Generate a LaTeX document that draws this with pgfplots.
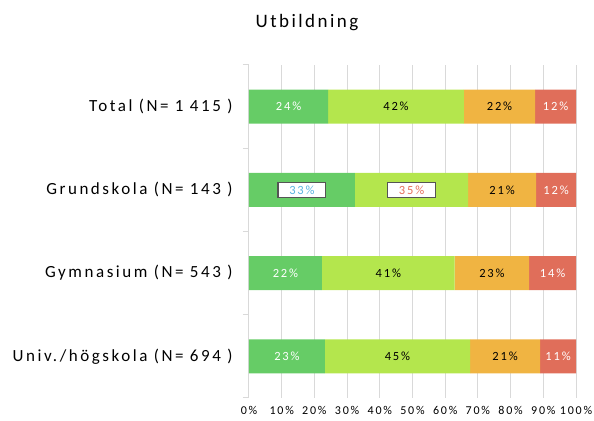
\documentclass[border=0pt]{standalone}
\usepackage{fontspec}
\setmainfont{Carlito}[LetterSpace=15]
\newfontfamily\lblfont{Carlito}[LetterSpace=15]
\newfontfamily\ttlfont{Carlito}[LetterSpace=13]
\usepackage{pgfplots}
\pgfplotsset{compat=1.18}
\definecolor{cgreen}{RGB}{102,204,102}
\definecolor{clime}{RGB}{180,230,77}
\definecolor{corange}{RGB}{240,180,66}
\definecolor{cred}{RGB}{224,110,90}
\definecolor{gridgray}{RGB}{217,217,217}
\definecolor{boxgray}{RGB}{85,85,85}
\definecolor{bxblue}{RGB}{91,181,224}
\definecolor{bxred}{RGB}{230,110,90}
\setlength{\fboxrule}{1.3pt}
\setlength{\fboxsep}{2.5pt}
\protected\def\bxb#1{\fcolorbox{boxgray}{white}{\hspace{8pt}\textcolor{bxblue}{#1}\hspace{8pt}}}
\protected\def\bxr#1{\fcolorbox{boxgray}{white}{\hspace{8pt}\textcolor{bxred}{#1}\hspace{8pt}}}
\begin{document}
\begin{tikzpicture}
\begin{axis}[
  xbar stacked,
  width=327pt, height=333pt, scale only axis,
  xmin=0, xmax=100, ymin=0.5, ymax=4.5,
  bar width=0.41,
  axis lines*=left,
  x axis line style={draw=none},
  y axis line style={gridgray, line width=1pt},
  xtick={0,10,...,100},
  xticklabel={\pgfmathprintnumber{\tick}\%},
  /pgf/number format/assume math mode=true,
  xmajorgrids,
  grid style={gridgray, line width=1pt},
  major tick length=0pt,
  minor tick length=6pt,
  tick align=outside,
  minor tick style={gridgray, line width=1pt},
  ytick={1,2,3,4},
  minor ytick={0.5,1.5,2.5,3.5,4.5},
  yticklabels={Univ./högskola (N= 694 ), Gymnasium (N= 543 ), Grundskola (N= 143 ), Total (N= 1 415 )},
  yticklabel style={anchor=east, xshift=-13pt, font=\lblfont\fontsize{17}{20}\selectfont, text=black},
  xticklabel style={font=\fontsize{12}{14}\selectfont, text=black, yshift=-5pt},
  nodes near coords,
  point meta=explicit symbolic,
  every node near coord/.append style={anchor=center, font=\fontsize{12.5}{14}\selectfont},
]
\addplot[fill=cgreen, draw=none, every node near coord/.append style={text=white}] coordinates {
  (24.2,4) [24\%]
  (32.4,3) [\bxb{33\%}]
  (22.3,2) [22\%]
  (23.2,1) [23\%]
};
\addplot[fill=clime, draw=none, every node near coord/.append style={text=black}] coordinates {
  (41.5,4) [42\%]
  (34.6,3) [\bxr{35\%}]
  (40.6,2) [41\%]
  (44.4,1) [45\%]
};
\addplot[fill=corange, draw=none, every node near coord/.append style={text=black}] coordinates {
  (21.8,4) [22\%]
  (20.8,3) [21\%]
  (22.8,2) [23\%]
  (21.4,1) [21\%]
};
\addplot[fill=cred, draw=none, every node near coord/.append style={text=white}] coordinates {
  (12.5,4) [12\%]
  (12.2,3) [12\%]
  (14.3,2) [14\%]
  (11.0,1) [11\%]
};
\coordinate (sw) at (rel axis cs:0,0);
\coordinate (ne) at (rel axis cs:1,1);
\end{axis}
\node[anchor=base, font=\ttlfont\fontsize{19}{22}\selectfont, inner sep=0pt] at ([xshift=58pt, yshift=37pt]sw |- ne) {Utbildning};
\pgfresetboundingbox
\path[use as bounding box] ([shift={(-249pt,-23pt)}]sw) rectangle ([shift={(18pt,65pt)}]ne);
\end{tikzpicture}
\end{document}
